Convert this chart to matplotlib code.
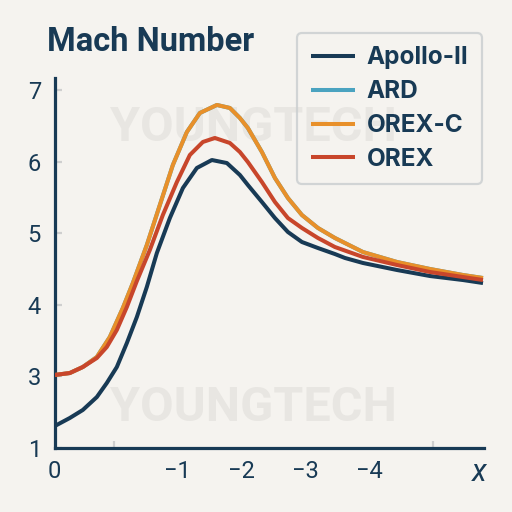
import matplotlib
matplotlib.use("Agg")
import matplotlib.pyplot as plt

# ------------------------------
# DATA (axis positions)
# ------------------------------
apollo_x = [0.078, 0.313, 0.517, 0.737, 0.893, 1.050, 1.207, 1.364, 1.520, 1.677,
            1.881, 2.085, 2.304, 2.539, 2.774, 2.978, 3.103, 3.323, 3.527, 3.730,
            3.950, 4.201, 4.467, 4.624, 4.906, 5.439, 5.956, 6.473, 6.787]
apollo_y = [2.307, 2.419, 2.531, 2.712, 2.908, 3.131, 3.466, 3.830, 4.249, 4.723,
            5.212, 5.631, 5.911, 6.022, 5.980, 5.813, 5.673, 5.436, 5.212, 5.017,
            4.877, 4.793, 4.709, 4.654, 4.584, 4.486, 4.402, 4.346, 4.304]

orex_x = [0.078, 0.313, 0.517, 0.737, 0.893, 1.050, 1.207, 1.364, 1.567, 1.771,
          1.991, 2.194, 2.398, 2.586, 2.821, 2.978, 3.103, 3.323, 3.527, 3.730,
          3.950, 4.201, 4.467, 4.906, 5.439, 5.956, 6.473, 6.787]
orex_y = [3.020, 3.047, 3.131, 3.257, 3.411, 3.648, 3.969, 4.332, 4.765, 5.254,
          5.715, 6.092, 6.274, 6.330, 6.260, 6.134, 5.994, 5.715, 5.436, 5.212,
          5.073, 4.933, 4.807, 4.668, 4.556, 4.458, 4.388, 4.346]

orexc_x = [0.078, 0.313, 0.517, 0.737, 0.940, 1.144, 1.301, 1.520, 1.724, 1.928,
           2.147, 2.351, 2.618, 2.821, 2.978, 3.103, 3.323, 3.527, 3.730, 3.950,
           4.201, 4.467, 4.906, 5.439, 5.956, 6.473, 6.787]
orexc_y = [3.020, 3.047, 3.131, 3.271, 3.550, 3.955, 4.304, 4.835, 5.394, 5.953,
           6.413, 6.679, 6.791, 6.749, 6.609, 6.469, 6.134, 5.771, 5.492, 5.254,
           5.073, 4.933, 4.737, 4.598, 4.500, 4.416, 4.374]

# ARD lies under OREX-C in the picture
ard_x = orexc_x
ard_y = orexc_y

x_tick_pos = [0.078, 2, 3, 4, 5]
x_tick_labels = ["0", "\u22121", "\u22122", "\u22123", "\u22124"]
x_minor_pos = [1, 2, 3, 4, 5, 6]
y_tick_pos = [2, 3, 4, 5, 6, 7]
y_tick_labels = ["1", "3", "4", "5", "6", "7"]

# ------------------------------
# STYLE
# ------------------------------
BG = "#f5f3ef"
NAVY = "#183a55"
TEAL = "#4aa3c0"
ORANGE = "#e8902a"
RED = "#c8462b"
GREY_TICK = "#cfcfcf"
WATERMARK = "#e8e6e2"

plt.rcParams["font.family"] = ["Roboto", "DejaVu Sans"]

fig = plt.figure(figsize=(5.12, 5.12), dpi=100, facecolor=BG)
ax = fig.add_axes([0.107, 0.125, 0.838, 0.723])
ax.set_facecolor(BG)

# watermarks
for wy in [0.75, 0.203]:
    ax.text(0.495, wy, "YOUNGTECH", fontsize=35, fontweight="bold",
            color=WATERMARK, ha="center", va="center", zorder=1,
            transform=fig.transFigure)

line_kw = dict(lw=2.9, solid_capstyle="butt", solid_joinstyle="round")
ax.plot(ard_x, ard_y, color=TEAL, label="ARD", zorder=2, **line_kw)
ax.plot(apollo_x, apollo_y, color=NAVY, label="Apollo-II", zorder=3, **line_kw)
ax.plot(orexc_x, orexc_y, color=ORANGE, label="OREX-C", zorder=3.5, **line_kw)
ax.plot(orex_x, orex_y, color=RED, label="OREX", zorder=4, **line_kw)

ax.set_xlim(0.078, 6.8)
ax.set_ylim(2, 7.17)

for s in ["top", "right"]:
    ax.spines[s].set_visible(False)
for s in ["left", "bottom"]:
    ax.spines[s].set_color(NAVY)
    ax.spines[s].set_linewidth(2.3)

ax.set_xticks(x_tick_pos)
ax.set_xticklabels(x_tick_labels)
ax.set_xticks(x_minor_pos, minor=True)
ax.tick_params(axis="x", which="major", length=0, pad=9, labelsize=17,
               labelcolor=NAVY)
ax.tick_params(axis="x", which="minor", direction="in", length=5, width=1.6,
               color=GREY_TICK)

ax.set_yticks(y_tick_pos)
ax.set_yticklabels(y_tick_labels)
ax.tick_params(axis="y", which="major", direction="in", length=5, width=1.6,
               color=GREY_TICK, pad=10, labelsize=17, labelcolor=NAVY)

fig.text(0.936, 0.077, "x", fontsize=22, style="italic", color=NAVY,
         ha="center", va="center")
fig.text(0.091, 0.918, "Mach Number", fontsize=23.5, fontweight="bold",
         color=NAVY, ha="left", va="center")

# legend in the order of the picture
handles, labels = ax.get_legend_handles_labels()
order = ["Apollo-II", "ARD", "OREX-C", "OREX"]
hmap = dict(zip(labels, handles))
leg = fig.legend([hmap[k] for k in order], order,
                 loc="upper right", bbox_to_anchor=(0.941, 0.936),
                 frameon=True, fancybox=True,
                 prop={"family": ["Inter", "Roboto"], "size": 17.5,
                       "weight": "bold"},
                 handlelength=1.8, handletextpad=0.5, labelspacing=0.45,
                 borderpad=0.55, borderaxespad=0)
leg.get_frame().set_facecolor("none")
leg.get_frame().set_edgecolor("#c9cdcf")
leg.get_frame().set_linewidth(1.6)
for t in leg.get_texts():
    t.set_color(NAVY)

fig.savefig("out.png", dpi=100, facecolor=BG)
